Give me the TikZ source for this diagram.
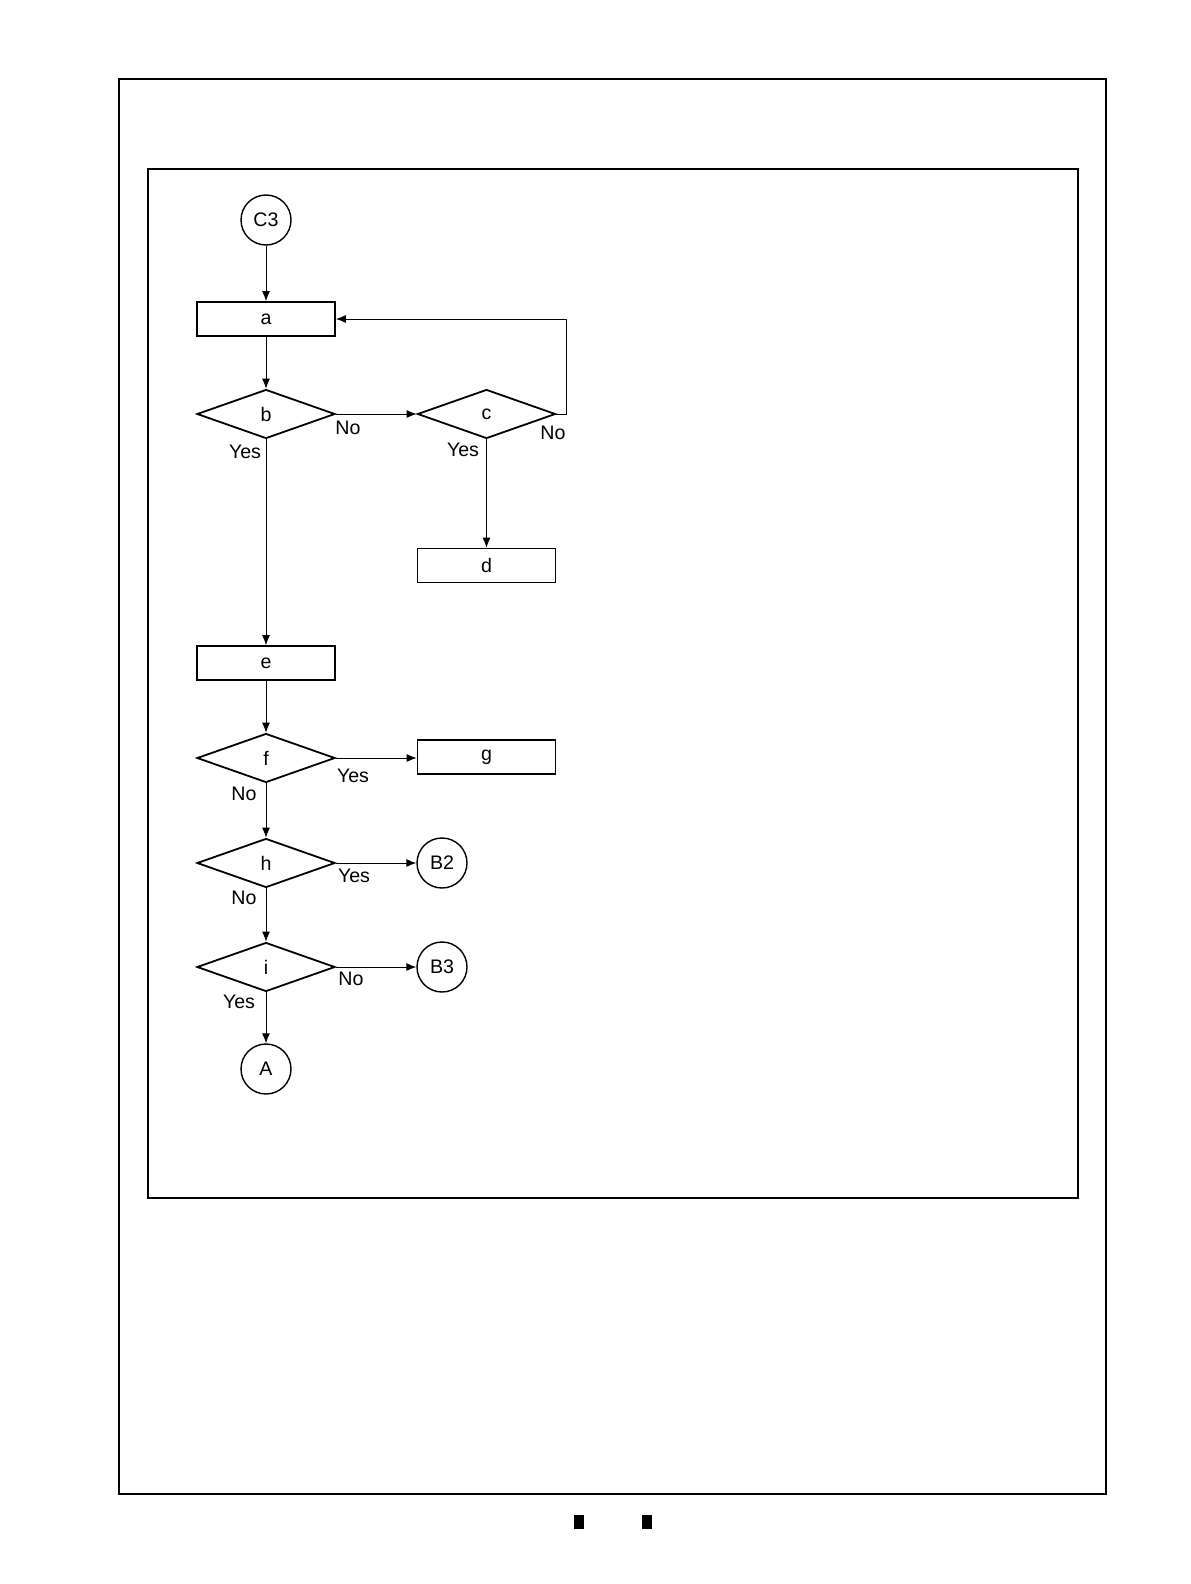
\documentclass[tikz,border=0pt]{standalone}
\usepackage{fontspec}
\setmainfont{Liberation Sans}
\usetikzlibrary{shapes.geometric,arrows.meta}
\begin{document}
\begin{tikzpicture}[x=0.5pt,y=-0.5pt,font=\fontsize{9.8}{11}\selectfont,
    box/.style={draw,line width=0.9pt,minimum width=69pt,minimum height=17pt,inner sep=0pt},
    decision/.style={draw,diamond,line width=0.9pt,minimum width=69pt,minimum height=24.5pt,inner sep=0pt},
    conn/.style={draw,circle,line width=0.7pt,minimum size=25pt,inner sep=0pt},
    flow/.style={line width=0.45pt,-{Latex[length=5pt,width=4pt]}}]
            \useasboundingbox (0,0) rectangle (1190,1584);
            \draw[line width=1.2pt] (119,79) rectangle (1106,1494);
            \draw[line width=1.2pt] (148,169) rectangle (1078,1198);
            \fill (574,1515) rectangle (584,1529);
            \fill (642,1515) rectangle (652,1529);
            \node[conn] (c3) at (266,220) {C3};
            \node[box] (a) at (266,319) {a};
            \node[decision] (b) at (266,414) {b};
            \node[decision] (c) at (486.5,414) {c};
            \node[box] (d) at (486.5,565.5) {d};
            \node[box] (e) at (266,663) {e};
            \node[decision] (f) at (266,758) {f};
            \node[box] (g) at (486.5,757) {g};
            \node[decision] (h) at (266,863) {h};
            \node[conn] (b2) at (442,863) {B2};
            \node[decision] (i) at (266,967) {i};
            \node[conn] (b3) at (442,967) {B3};
            \node[conn] (A) at (266,1069) {A};
            \draw[flow] (c3) -- (a);
            \draw[flow] (a) -- (b);
            \draw[flow] (b) -- (e);
            \draw[flow] (b) -- (c);
            \draw[flow] (c) -- (d);
            \draw[flow] (c.east) -- ++(10,0) |- (a.east);
            \draw[flow] (e) -- (f);
            \draw[flow] (f.east) -- (f.east -| g.west);
            \draw[flow] (f) -- (h);
            \draw[flow] (h) -- (b2);
            \draw[flow] (h) -- (i);
            \draw[flow] (i) -- (b3);
            \draw[flow] (i) -- (A);
            \node (bYes) at (245,452) {Yes};
            \node (bNo) at (348,428) {No};
            \node (cYes) at (463,450) {Yes};
            \node (cNo) at (553,433) {No};
            \node (fYes) at (353,776) {Yes};
            \node (fNo) at (244,794) {No};
            \node (hYes) at (354,876) {Yes};
            \node (hNo) at (244,898) {No};
            \node (iNo) at (351,979) {No};
            \node (iYes) at (239,1002) {Yes};
\end{tikzpicture}
\end{document}
